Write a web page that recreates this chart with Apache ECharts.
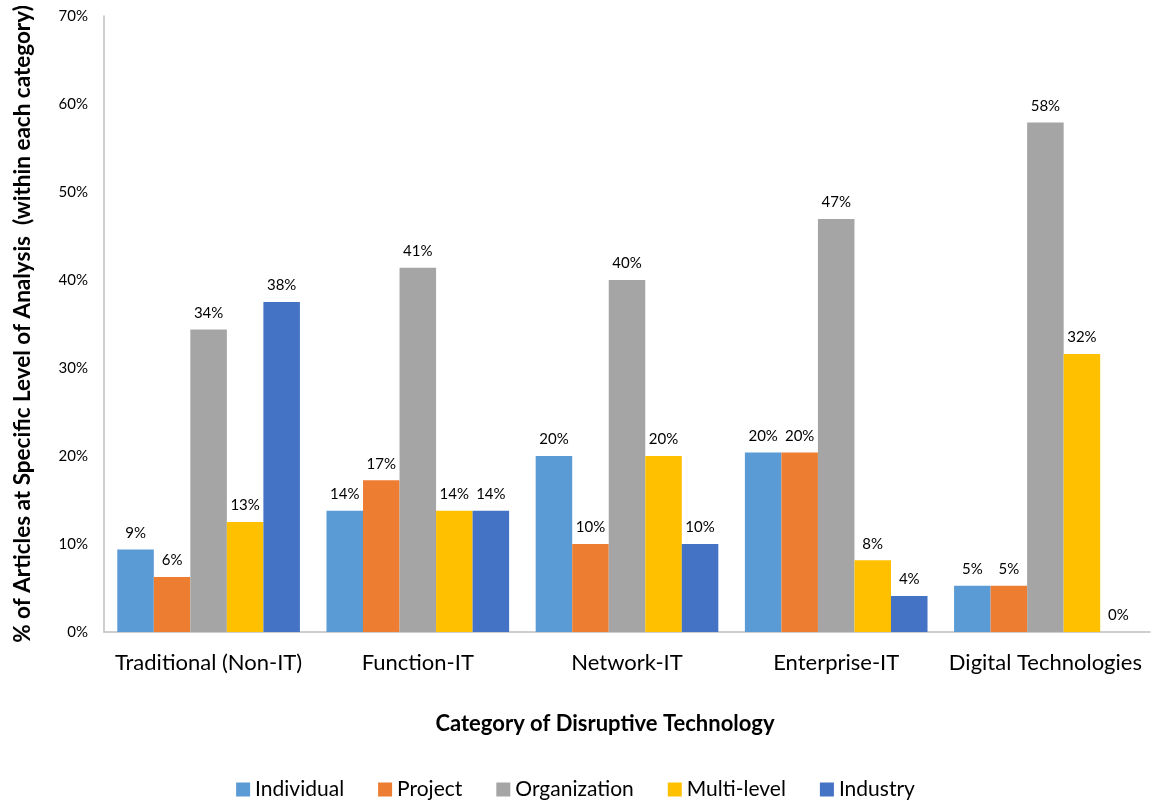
<!DOCTYPE html>
<html>
<head>
<meta charset="utf-8">
<script src="https://cdn.jsdelivr.net/npm/echarts@6/dist/echarts.min.js"></script>
<style>html,body{margin:0;padding:0;background:#fff;}#c{width:1151px;height:801px;}</style>
</head>
<body>
<div id="c"></div>
<script>
var categories = ['Traditional (Non-IT)', 'Function-IT', 'Network-IT', 'Enterprise-IT', 'Digital Technologies'];
var individual = [9.38, 13.79, 20, 20.41, 5.26];
var project = [6.25, 17.24, 10, 20.41, 5.26];
var organization = [34.38, 41.38, 40, 46.94, 57.89];
var multiLevel = [12.5, 13.79, 20, 8.16, 31.58];
var industry = [37.5, 13.79, 10, 4.08, 0];
var yTicks = [0, 10, 20, 30, 40, 50, 60, 70];

var FONT = 'Lato';
var chart = echarts.init(document.getElementById('c'), null, {renderer: 'canvas'});
function mk(name, data, color) {
  return {
    name: name, type: 'bar', data: data, barGap: '0%', barCategoryGap: '12.7%',
    itemStyle: {color: color},
    label: {show: true, position: 'top', distance: 9, color: '#000', fontFamily: FONT, fontSize: 15,
      formatter: function (p) { return Math.round(p.value) + '%'; }}
  };
}
chart.setOption({
  animation: false,
  textStyle: {fontFamily: FONT},
  title: {text: 'Category of Disruptive Technology', left: 600, top: 708, textAlign: 'center',
    textStyle: {fontFamily: FONT, fontSize: 22, fontWeight: 'bold', color: '#000'}},
  legend: {top: 774, left: 'center', itemWidth: 14, itemHeight: 14, itemGap: 34,
    icon: 'rect', textStyle: {fontFamily: FONT, fontSize: 21, color: '#000'}},
  grid: {left: 104, right: 1, top: 16, bottom: 169, outerBoundsMode: 'none', containLabel: false},
  xAxis: {type: 'category', data: categories,
    axisLine: {lineStyle: {color: '#bfbfbf', width: 1.5}}, axisTick: {show: false},
    axisLabel: {fontFamily: FONT, fontSize: 22, color: '#000', margin: 20, interval: 0}},
  yAxis: {type: 'value', min: yTicks[0], max: yTicks[yTicks.length - 1], interval: 10,
    name: '% of Articles at Specific Level of Analysis  (within each category)',
    nameLocation: 'middle', nameGap: 70,
    nameTextStyle: {fontFamily: FONT, fontSize: 22.5, fontWeight: 'bold', color: '#000'},
    axisLine: {show: true, lineStyle: {color: '#bfbfbf', width: 1.5}}, axisTick: {show: false},
    splitLine: {show: false},
    axisLabel: {fontFamily: FONT, fontSize: 15, color: '#000', margin: 16, formatter: '{value}%'}},
  series: [
    mk('Individual', individual, '#5B9BD5'),
    mk('Project', project, '#ED7D31'),
    mk('Organization', organization, '#A5A5A5'),
    mk('Multi-level', multiLevel, '#FFC000'),
    mk('Industry', industry, '#4472C4')
  ]
});
</script>
</body>
</html>
